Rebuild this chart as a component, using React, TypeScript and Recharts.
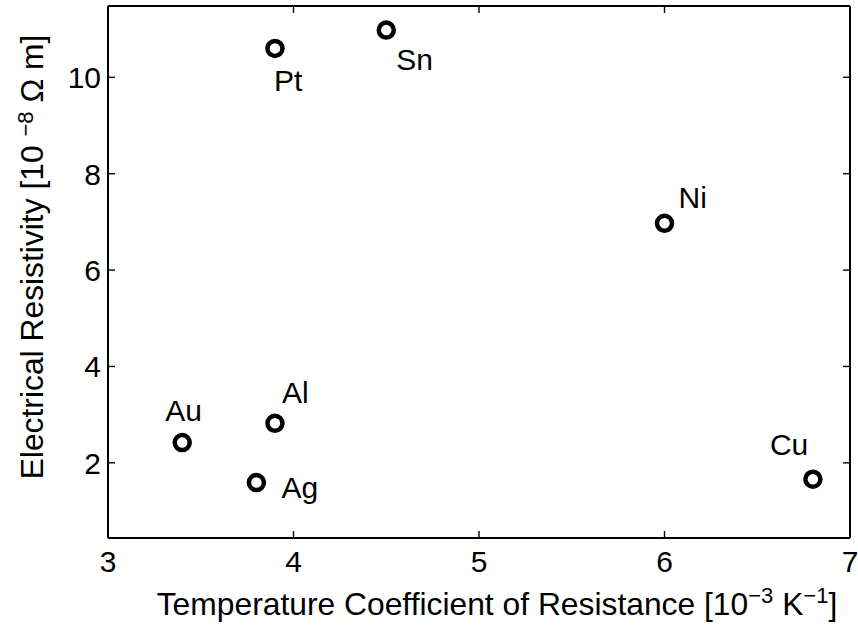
import { ScatterChart, Scatter, XAxis, YAxis, ReferenceLine } from 'recharts'

const METALS = ['Au', 'Ag', 'Al', 'Pt', 'Sn', 'Ni', 'Cu']
const TEMP_COEFF = [3.4, 3.8, 3.9, 3.9, 4.5, 6.0, 6.8]
const RESISTIVITY = [2.42, 1.59, 2.82, 10.6, 10.98, 6.97, 1.66]

const X_TICKS = [3, 4, 5, 6, 7]
const Y_TICKS = [2, 4, 6, 8, 10]
const X_DOMAIN: [number, number] = [3, 7]
const Y_DOMAIN: [number, number] = [0.44, 11.48]

// label offset from marker centre: [dx, dy to baseline]
const LABEL_OFFSETS: Record<string, [number, number]> = {
  Au: [-17, -22],
  Ag: [25, 15],
  Al: [7, -20],
  Pt: [-1, 43],
  Sn: [10, 40],
  Ni: [14, -15],
  Cu: [-43, -24]
}

const data = METALS.map((name, i) => ({ name, x: TEMP_COEFF[i], y: RESISTIVITY[i] }))

const W = 858
const H = 626
const LEFT = 108
const RIGHT = 850
const TOP = 6
const BOTTOM = 538
const TICK_LEN = 7
const FONT = '"Liberation Sans", Arial, Helvetica, sans-serif'
const FS = 30
const TITLE_FS = 31.8
const SUP_FS = 22

const XTick = (props: any) => {
  const { x, payload } = props
  return (
    <g>
      <line x1={x} x2={x} y1={BOTTOM} y2={BOTTOM - TICK_LEN} stroke="#000" strokeWidth={1.4} />
      <line x1={x} x2={x} y1={TOP} y2={TOP + TICK_LEN} stroke="#000" strokeWidth={1.4} />
      <text x={x} y={BOTTOM + 34} textAnchor="middle" fontSize={FS} fontFamily={FONT} fill="#000">
        {payload.value}
      </text>
    </g>
  )
}

const YTick = (props: any) => {
  const { y, payload } = props
  return (
    <g>
      <line x1={LEFT} x2={LEFT + TICK_LEN} y1={y} y2={y} stroke="#000" strokeWidth={1.4} />
      <line x1={RIGHT} x2={RIGHT - TICK_LEN} y1={y} y2={y} stroke="#000" strokeWidth={1.4} />
      <text x={101} y={y + 11} textAnchor="end" fontSize={FS} fontFamily={FONT} fill="#000">
        {payload.value}
      </text>
    </g>
  )
}

const Marker = (props: any) => {
  const { cx, cy, payload } = props
  const [dx, dy] = LABEL_OFFSETS[payload.name] || [10, -10]
  return (
    <g>
      <circle cx={cx} cy={cy} r={7.5} fill="#fff" stroke="#000" strokeWidth={4.5} />
      <text x={cx + dx} y={cy + dy} fontSize={FS} fontFamily={FONT} fill="#000">
        {payload.name}
      </text>
    </g>
  )
}

const XTitle = () => (
  <text x={497} y={615} textAnchor="middle" fontSize={TITLE_FS} fontFamily={FONT} fill="#000">
    Temperature Coefficient of Resistance [10
    <tspan dy={-12} fontSize={SUP_FS}>−3</tspan>
    <tspan dy={12}> K</tspan>
    <tspan dy={-12} fontSize={SUP_FS}>−1</tspan>
    <tspan dy={12}>]</tspan>
  </text>
)

const YTitle = () => (
  <text
    x={257}
    y={43}
    transform="rotate(-90 0 0) translate(-514 0)"
    textAnchor="middle"
    fontSize={TITLE_FS}
    fontFamily={FONT}
    fill="#000"
  >
    Electrical Resistivity [10{' '}
    <tspan dy={-10} fontSize={SUP_FS}>−8</tspan>
    <tspan dy={10}> Ω m]</tspan>
  </text>
)

export default function App() {
  return (
    <div style={{ position: 'absolute', left: 0, top: 0, width: W, height: H, background: '#fff' }}>
      <ScatterChart width={W} height={H} margin={{ top: TOP, right: W - RIGHT, bottom: 0, left: 0 }}>
        <XAxis
          type="number"
          dataKey="x"
          domain={X_DOMAIN}
          ticks={X_TICKS}
          interval={0}
          allowDataOverflow
          height={H - BOTTOM}
          tickLine={false}
          tickSize={0}
          axisLine={{ stroke: '#000', strokeWidth: 2 }}
          tick={<XTick />}
          label={<XTitle />}
        />
        <YAxis
          type="number"
          dataKey="y"
          domain={Y_DOMAIN}
          ticks={Y_TICKS}
          interval={0}
          allowDataOverflow
          width={LEFT}
          tickLine={false}
          tickSize={0}
          axisLine={{ stroke: '#000', strokeWidth: 2 }}
          tick={<YTick />}
          label={<YTitle />}
        />
        <ReferenceLine y={Y_DOMAIN[1]} stroke="#000" strokeWidth={2} />
        <ReferenceLine x={X_DOMAIN[1]} stroke="#000" strokeWidth={2} />
        <Scatter data={data} shape={<Marker />} isAnimationActive={false} />
      </ScatterChart>
    </div>
  )
}
